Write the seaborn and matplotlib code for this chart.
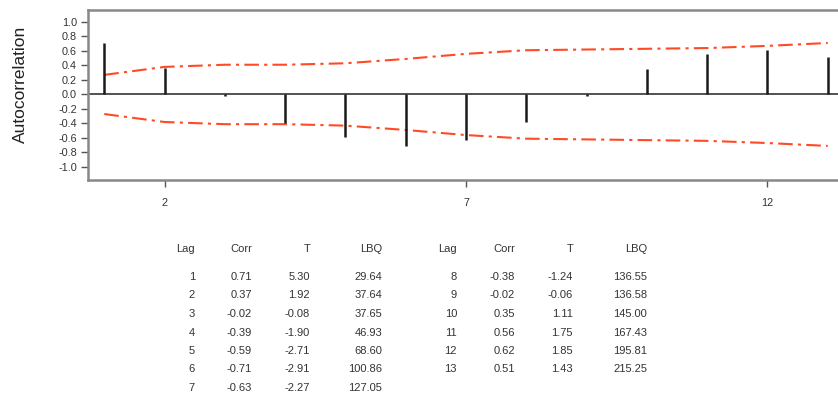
import numpy as np
import pandas as pd
import matplotlib
matplotlib.use("Agg")
import matplotlib.pyplot as plt
import seaborn as sns

lags = [1, 2, 3, 4, 5, 6, 7, 8, 9, 10, 11, 12, 13]
corr = [0.71, 0.37, -0.02, -0.39, -0.59, -0.71, -0.63, -0.38, -0.02, 0.35, 0.56, 0.62, 0.51]
tstat = [5.30, 1.92, -0.08, -1.90, -2.71, -2.91, -2.27, -1.24, -0.06, 1.11, 1.75, 1.85, 1.43]
lbq = [29.64, 37.64, 37.65, 46.93, 68.60, 100.86, 127.05, 136.55, 136.58, 145.00, 167.43, 195.81, 215.25]
upper_limit = [0.27, 0.38, 0.41, 0.41, 0.43, 0.49, 0.56, 0.61, 0.62, 0.63, 0.64, 0.67, 0.71]
lower_limit = [-0.27, -0.38, -0.41, -0.41, -0.43, -0.49, -0.56, -0.61, -0.62, -0.63, -0.64, -0.67, -0.71]
yticks = [1.0, 0.8, 0.6, 0.4, 0.2, 0.0, -0.2, -0.4, -0.6, -0.8, -1.0]
xticks = [2, 7, 12]

sns.set_style("white")
plt.rcParams['font.family'] = ['Liberation Sans', 'DejaVu Sans']

W, H = 838, 403
fig = plt.figure(figsize=(W / 100, H / 100), dpi=100)
ax = fig.add_axes([88 / W, 1 - 180 / H, (844 - 88) / W, 170 / H])

df = pd.DataFrame({"lag": lags, "upper": upper_limit, "lower": lower_limit})
red = "#ff4a26"
dash = (0, (7, 2.5, 1.5, 2.5))
sns.lineplot(data=df, x="lag", y="upper", ax=ax, color=red, lw=1.5)
sns.lineplot(data=df, x="lag", y="lower", ax=ax, color=red, lw=1.5)
ax.lines[0].set_linestyle(dash)
ax.lines[1].set_linestyle(dash)

ax.axhline(0, color="#444444", lw=1.3, zorder=1)
ax.vlines(lags, 0, corr, color="#1a1a1a", lw=1.8, zorder=3)

ax.set_xlim(0.73, 13.27)
ax.set_ylim(-1.18, 1.165)
ax.set_yticks(yticks)
ax.set_yticklabels([f"{v:.1f}" for v in yticks])
ax.set_xticks(xticks)
ax.set_xticklabels([str(v) for v in xticks])
ax.tick_params(axis="both", direction="out", length=5, width=1, color="#555555",
               labelsize=7.8, labelcolor="#333333", left=True, bottom=True, pad=3)
ax.tick_params(axis="x", pad=8)
for s in ["top", "left", "bottom", "right"]:
    ax.spines[s].set_color("#888888")
    ax.spines[s].set_linewidth(1.8)
ax.set_xlabel("")
ax.set_ylabel("Autocorrelation", fontsize=12.5, color="#222222")
ax.yaxis.set_label_coords(-0.08, 0.56)

def put(xpx, ypx, s):
    fig.text(xpx / W, 1 - ypx / H, s, ha="right", va="center", fontsize=8, color="#333333")

header_y = 249
first_row_y = 277
row_h = 18.5
cols_left = [195, 252, 310, 382]
cols_right = [457, 515, 573, 647]
for cols in (cols_left, cols_right):
    for x, h in zip(cols, ["Lag", "Corr", "T", "LBQ"]):
        put(x, header_y, h)

for i in range(len(lags)):
    if i < 7:
        cols = cols_left
        r = i
    else:
        cols = cols_right
        r = i - 7
    y = first_row_y + r * row_h
    put(cols[0], y, str(lags[i]))
    put(cols[1], y, f"{corr[i]:.2f}")
    put(cols[2], y, f"{tstat[i]:.2f}")
    put(cols[3], y, f"{lbq[i]:.2f}")

fig.savefig("out.png", dpi=100)
